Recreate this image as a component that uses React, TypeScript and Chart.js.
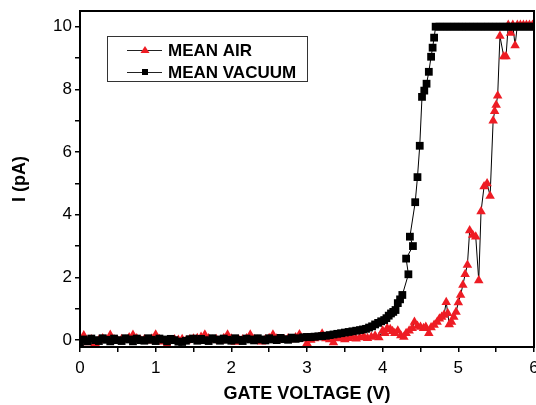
import React, { useEffect, useRef } from "react";
import { Chart, registerables } from "chart.js";

Chart.register(...registerables);

// MEAN VACUUM series: gate voltage (V) and current (pA)
const VAC_V = [
  0.0, 0.05, 0.1, 0.15, 0.2, 0.25, 0.3, 0.35, 0.4, 0.45,
  0.5, 0.55, 0.6, 0.65, 0.7, 0.75, 0.8, 0.85, 0.9, 0.95,
  1.0, 1.05, 1.1, 1.15, 1.2, 1.25, 1.3, 1.35, 1.4, 1.45,
  1.5, 1.55, 1.6, 1.65, 1.7, 1.75, 1.8, 1.85, 1.9, 1.95,
  2.0, 2.05, 2.1, 2.15, 2.2, 2.25, 2.3, 2.35, 2.4, 2.45,
  2.5, 2.55, 2.6, 2.65, 2.7, 2.75, 2.8, 2.85, 2.9, 2.95,
  3.0, 3.05, 3.1, 3.15, 3.2, 3.25, 3.3, 3.35, 3.4, 3.45,
  3.5, 3.55, 3.6, 3.65, 3.7, 3.74, 3.78, 3.82, 3.86, 3.9,
  3.94, 3.98, 4.02, 4.05, 4.08, 4.11, 4.14, 4.17, 4.2, 4.23,
  4.26, 4.34, 4.31, 4.4, 4.36, 4.43, 4.46, 4.49, 4.52, 4.55,
  4.58, 4.61, 4.64, 4.66, 4.68, 4.7, 4.75, 4.8, 4.85, 4.9,
  4.95, 5.0, 5.05, 5.1, 5.15, 5.2, 5.25, 5.3, 5.35, 5.4,
  5.45, 5.5, 5.55, 5.6, 5.65, 5.7, 5.75, 5.8, 5.85, 5.9,
  5.95, 6.0,
];
const VAC_I = [
  -0.15, 0.02, -0.04, 0.05, 0.0, -0.03, 0.06, 0.01, -0.04, 0.05,
  0.0, -0.03, 0.06, 0.02, -0.04, 0.05, 0.0, -0.02, 0.06, 0.01,
  -0.03, 0.05, 0.02, -0.04, 0.04, 0.0, -0.05, -0.06, -0.02, 0.03,
  0.05, -0.02, 0.04, 0.0, -0.03, 0.06, 0.02, -0.02, 0.05, 0.01,
  -0.02, 0.06, 0.01, -0.03, 0.05, 0.02, -0.01, 0.06, 0.02, -0.01,
  0.06, 0.02, 0.0, 0.07, 0.03, 0.01, 0.08, 0.04, 0.06, 0.09,
  0.1, 0.1, 0.11, 0.12, 0.13, 0.14, 0.16, 0.18, 0.2, 0.22,
  0.24, 0.26, 0.28, 0.3, 0.32, 0.34, 0.36, 0.4, 0.44, 0.5,
  0.55, 0.6, 0.64, 0.7, 0.78, 0.85, 0.9, 0.96, 1.18, 1.3,
  1.44, 2.1, 2.6, 3.0, 3.3, 4.4, 5.2, 6.2, 7.76, 7.96,
  8.18, 8.56, 9.04, 9.33, 9.65, 10.0, 10.0, 10.0, 10.0, 10.0,
  10.0, 10.0, 10.0, 10.0, 10.0, 10.0, 10.0, 10.0, 10.0, 10.0,
  10.0, 10.0, 10.0, 10.0, 10.0, 10.0, 10.0, 10.0, 10.0, 10.0,
  10.0, 10.0,
];

// MEAN AIR series: gate voltage (V) and current (pA)
const AIR_V = [
  0.0, 0.05, 0.1, 0.15, 0.2, 0.25, 0.3, 0.35, 0.4, 0.45,
  0.5, 0.55, 0.6, 0.65, 0.7, 0.75, 0.8, 0.85, 0.9, 0.95,
  1.0, 1.05, 1.1, 1.15, 1.2, 1.25, 1.3, 1.35, 1.4, 1.45,
  1.5, 1.55, 1.6, 1.65, 1.7, 1.75, 1.8, 1.85, 1.9, 1.95,
  2.0, 2.05, 2.1, 2.15, 2.2, 2.25, 2.3, 2.35, 2.4, 2.45,
  2.5, 2.55, 2.6, 2.65, 2.7, 2.75, 2.8, 2.85, 2.9, 2.95,
  3.0, 3.05, 3.1, 3.15, 3.2, 3.25, 3.3, 3.35, 3.4, 3.45,
  3.5, 3.55, 3.6, 3.65, 3.7, 3.75, 3.8, 3.85, 3.9, 3.95,
  4.0, 4.03, 4.06, 4.1, 4.13, 4.16, 4.2, 4.24, 4.28, 4.31,
  4.35, 4.39, 4.42, 4.46, 4.5, 4.54, 4.57, 4.61, 4.64, 4.68,
  4.72, 4.75, 4.78, 4.81, 4.84, 4.86, 4.88, 4.91, 4.94, 4.97,
  5.0, 5.03, 5.06, 5.09, 5.12, 5.15, 5.19, 5.23, 5.27, 5.3,
  5.34, 5.38, 5.42, 5.46, 5.48, 5.5, 5.52, 5.55, 5.6, 5.63,
  5.66, 5.69, 5.72, 5.75, 5.78, 5.82, 5.86, 5.9, 5.94, 5.98,
];
const AIR_I = [
  0.05, 0.15, -0.08, 0.02, -0.1, 0.0, 0.05, 0.0, 0.16, 0.02,
  -0.02, 0.03, 0.0, 0.08, 0.16, 0.05, 0.0, 0.02, -0.02, 0.04,
  0.17, 0.03, -0.05, -0.14, -0.02, 0.02, 0.0, 0.03, -0.03, 0.02,
  0.04, 0.06, 0.1, 0.17, 0.05, 0.0, 0.03, -0.02, 0.06, 0.17,
  0.04, -0.06, 0.0, 0.02, 0.05, 0.17, 0.03, 0.0, -0.05, 0.02,
  0.06, 0.17, 0.04, 0.0, 0.02, 0.05, 0.02, 0.08, 0.18, 0.04,
  -0.1, 0.0, 0.05, 0.08, 0.2, 0.05, 0.02, -0.08, 0.05, 0.08,
  0.02, 0.06, 0.1, 0.04, 0.08, 0.12, 0.06, 0.1, 0.14, 0.08,
  0.3, 0.22, 0.38, 0.35, 0.28, 0.22, 0.3, 0.15, 0.1, 0.22,
  0.3, 0.38, 0.58, 0.45, 0.42, 0.38, 0.42, 0.22, 0.4, 0.48,
  0.58, 0.68, 0.74, 0.8, 1.21, 0.86, 0.5, 0.58, 0.74, 0.9,
  1.2, 1.44, 1.76, 2.1, 2.4, 3.5, 3.35, 3.3, 1.9, 4.1,
  4.9, 5.0, 4.6, 7.0, 7.3, 7.5, 7.8, 9.7, 9.05, 9.05,
  10.05, 9.8, 10.05, 9.4, 10.05, 10.05, 10.05, 10.05, 10.05, 10.05,
];

const X_TICKS = [0, 0.5, 1, 1.5, 2, 2.5, 3, 3.5, 4, 4.5, 5, 5.5, 6];
const Y_TICKS = [0, 1, 2, 3, 4, 5, 6, 7, 8, 9, 10];
const X_LABELED = [0, 1, 2, 3, 4, 5, 6];
const Y_LABELED = [0, 2, 4, 6, 8, 10];

const RED = "#ee1c24";
const FONT = "'Liberation Sans', Arial, sans-serif";

const framePlugin = {
  id: "frameAndLegend",
  afterDraw(chart: any) {
    const { ctx, chartArea } = chart;
    ctx.save();
    ctx.strokeStyle = "#000";
    ctx.lineWidth = 2;
    ctx.strokeRect(chartArea.left, chartArea.top, chartArea.right - chartArea.left, chartArea.bottom - chartArea.top);

    // legend box
    const bx = 107.5, by = 36.5, bw = 200, bh = 45;
    ctx.lineWidth = 1;
    ctx.strokeStyle = "#333";
    ctx.strokeRect(bx, by, bw, bh);
    const rows = [
      { label: "MEAN AIR", y: 50, kind: "tri" },
      { label: "MEAN VACUUM", y: 72, kind: "sq" },
    ];
    ctx.font = `bold 17px ${FONT}`;
    ctx.textBaseline = "middle";
    ctx.textAlign = "left";
    for (const r of rows) {
      ctx.strokeStyle = "#222";
      ctx.lineWidth = 1;
      ctx.beginPath();
      ctx.moveTo(127, r.y + 0.5);
      ctx.lineTo(162, r.y + 0.5);
      ctx.stroke();
      if (r.kind === "tri") {
        ctx.fillStyle = RED;
        ctx.beginPath();
        ctx.moveTo(145, r.y - 4);
        ctx.lineTo(149.5, r.y + 3);
        ctx.lineTo(140.5, r.y + 3);
        ctx.closePath();
        ctx.fill();
      } else {
        ctx.fillStyle = "#000";
        ctx.fillRect(142, r.y - 3, 6, 6);
      }
      ctx.fillStyle = "#000";
      ctx.fillText(r.label, 168, r.y + 1);
    }
    ctx.restore();
  },
};

export default function App() {
  const ref = useRef<HTMLCanvasElement | null>(null);
  useEffect(() => {
    document.body.style.margin = "0";
    const canvas = ref.current!;
    const chart = new Chart(canvas, {
      type: "line",
      data: {
        datasets: [
          {
            label: "MEAN VACUUM",
            data: VAC_V.map((x, i) => ({ x, y: VAC_I[i] })),
            borderColor: "#000",
            borderWidth: 1,
            pointStyle: "rect",
            pointRadius: 5.5,
            pointBackgroundColor: "#000",
            pointBorderWidth: 0,
            pointHoverRadius: 5.5,
            tension: 0,
          },
          {
            label: "MEAN AIR",
            data: AIR_V.map((x, i) => ({ x, y: AIR_I[i] })),
            borderColor: "#000",
            borderWidth: 1,
            pointStyle: "triangle",
            pointRadius: 5.5,
            pointBackgroundColor: RED,
            pointBorderWidth: 0,
            pointHoverRadius: 5.5,
            tension: 0,
          },
        ],
      },
      options: {
        responsive: false,
        animation: false,
        devicePixelRatio: 1,
        layout: { autoPadding: false, padding: { top: 11, right: 2, left: 0, bottom: 0 } },
        plugins: { legend: { display: false }, tooltip: { enabled: false } },
        scales: {
          x: {
            type: "linear",
            min: 0,
            max: 6,
            afterBuildTicks: (s: any) => {
              s.ticks = X_TICKS.map((v) => ({ value: v }));
            },
            afterFit: (s: any) => {
              s.height = 58;
              s.paddingLeft = 0;
              s.paddingRight = 0;
            },
            ticks: {
              autoSkip: false,
              maxRotation: 0,
              padding: 6,
              color: "#000",
              font: { family: FONT, size: 17 },
              callback: (v: any) => (X_LABELED.includes(Number(v)) ? String(v) : ""),
            },
            grid: { drawOnChartArea: false, tickLength: 5, color: "#000", lineWidth: 1.5 },
            border: { display: false },
            title: {
              display: true,
              text: "GATE VOLTAGE (V)",
              color: "#000",
              font: { family: FONT, size: 18, weight: "bold" },
              padding: { top: 0, bottom: 0 },
            },
          },
          y: {
            type: "linear",
            min: -0.22,
            max: 10.5,
            afterBuildTicks: (s: any) => {
              s.ticks = Y_TICKS.map((v) => ({ value: v }));
            },
            afterFit: (s: any) => {
              s.width = 80;
              s.paddingTop = 0;
              s.paddingBottom = 0;
            },
            ticks: {
              autoSkip: false,
              padding: 3,
              color: "#000",
              font: { family: FONT, size: 17 },
              callback: (v: any) => (Y_LABELED.includes(Number(v)) ? String(v) : ""),
            },
            grid: { drawOnChartArea: false, tickLength: 5, color: "#000", lineWidth: 1.5 },
            border: { display: false },
            title: {
              display: true,
              text: "I (pA)",
              color: "#000",
              font: { family: FONT, size: 18, weight: "bold" },
              padding: { top: 9, bottom: 0 },
            },
          },
        },
      },
      plugins: [framePlugin],
    } as any);
    return () => chart.destroy();
  }, []);
  return <canvas ref={ref} width={536} height={405} style={{ display: "block" }} />;
}
